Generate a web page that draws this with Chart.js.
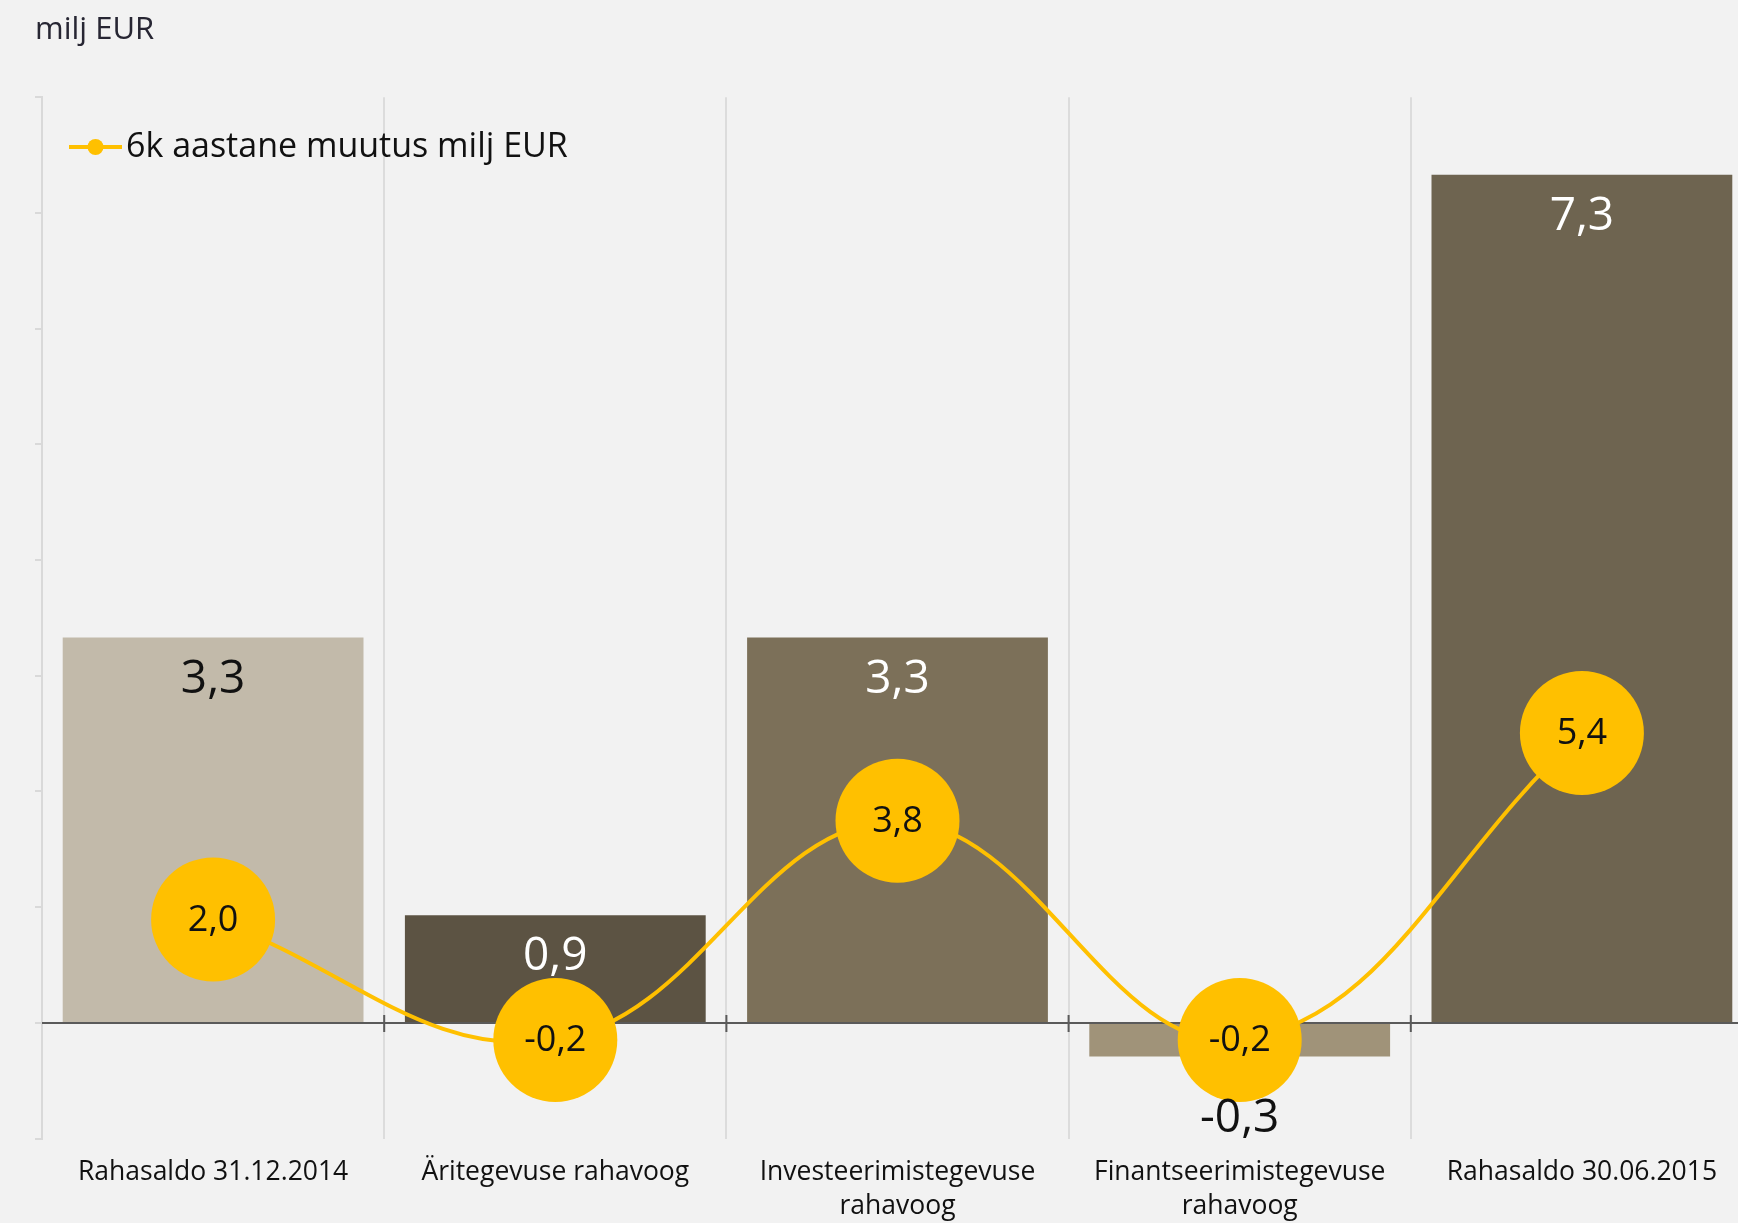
<!DOCTYPE html>
<html>
<head>
<meta charset="utf-8">
<title>Rahavood</title>
<script src="https://cdn.jsdelivr.net/npm/chart.js"></script>
<style>
    html, body { margin: 0; padding: 0; background: #f2f2f2; overflow: hidden; }
    #wrap { position: absolute; left: 0; top: 0; width: 1760px; height: 1241px; }
</style>
</head>
<body>
<div id="wrap"><canvas id="myChart" width="1760" height="1241"></canvas></div>
<script>
const categories = [
    'Rahasaldo 31.12.2014',
    'Äritegevuse rahavoog',
    ['Investeerimistegevuse', 'rahavoog'],
    ['Finantseerimistegevuse', 'rahavoog'],
    'Rahasaldo 30.06.2015'
];
const cashValues = [3.33, 0.93, 3.33, -0.29, 7.33];
const changeValues = [2.0, -0.2, 3.8, -0.2, 5.4];
const changeLabel = '6k aastane muutus milj EUR';
const unitLabel = 'milj EUR';

const barColors = ['#c2baaa', '#5c5343', '#7c7059', '#a09379', '#6e6450'];
const barLabelColors = ['#111111', '#ffffff', '#ffffff', '#111111', '#ffffff'];
const yellow = '#ffc000';
const family = '"Open Sans", sans-serif';

const fmt = v => v.toFixed(1).replace('.', ',');

// legend marker: short line with a dot in the middle
function legendMarker() {
    const c = document.createElement('canvas');
    c.width = 62;
    c.height = 18;
    const g = c.getContext('2d');
    g.strokeStyle = yellow;
    g.lineWidth = 4;
    g.beginPath();
    g.moveTo(9, 9);
    g.lineTo(62, 9);
    g.stroke();
    g.fillStyle = yellow;
    g.beginPath();
    g.arc(35.5, 9, 8, 0, Math.PI * 2);
    g.fill();
    return c;
}

// dark zero line with crossing ticks, drawn over the bars but under the line
const zeroAxis = {
    id: 'zeroAxis',
    beforeDatasetDraw(chart, args) {
        if (args.meta.type !== 'line') return;
        const {ctx, chartArea, scales: {x, y}} = chart;
        const y0 = y.getPixelForValue(0);
        ctx.save();
        ctx.strokeStyle = '#5a5a5a';
        ctx.lineWidth = 2;
        ctx.beginPath();
        ctx.moveTo(chartArea.left, y0);
        ctx.lineTo(chartArea.right, y0);
        for (let i = 1; i < categories.length; i++) {
            const bx = (x.getPixelForValue(i - 1) + x.getPixelForValue(i)) / 2;
            ctx.moveTo(bx, y0 - 8);
            ctx.lineTo(bx, y0 + 9);
        }
        ctx.stroke();
        ctx.restore();
    }
};

const valueLabels = {
    id: 'valueLabels',
    afterDatasetsDraw(chart) {
        const ctx = chart.ctx;
        ctx.save();
        ctx.textAlign = 'center';
        ctx.textBaseline = 'middle';

        ctx.font = '46px ' + family;
        chart.getDatasetMeta(1).data.forEach((bar, i) => {
            const v = cashValues[i];
            ctx.fillStyle = barLabelColors[i];
            ctx.fillText(fmt(v), bar.x, v >= 0 ? bar.y + 42 : bar.y + 62);
        });

        ctx.font = '36px ' + family;
        ctx.fillStyle = '#111111';
        chart.getDatasetMeta(0).data.forEach((p, i) => {
            ctx.fillText(fmt(changeValues[i]), p.x, p.y + 1);
        });
        ctx.restore();
    }
};

const ctx = document.getElementById('myChart').getContext('2d');
new Chart(ctx, {
    data: {
        labels: categories,
        datasets: [
            {
                type: 'line',
                label: changeLabel,
                data: changeValues,
                yAxisID: 'y2',
                borderColor: yellow,
                borderWidth: 4,
                tension: 0.4,
                pointRadius: 62,
                pointHoverRadius: 62,
                pointBackgroundColor: yellow,
                pointBorderWidth: 0,
                clip: false,
                order: 0
            },
            {
                type: 'bar',
                label: 'Rahasaldo',
                data: cashValues,
                backgroundColor: barColors,
                barPercentage: 1,
                categoryPercentage: 0.879,
                order: 1
            }
        ]
    },
    options: {
        responsive: false,
        animation: false,
        devicePixelRatio: 1,
        layout: { autoPadding: false, padding: { left: 35, right: 7, top: 0, bottom: 0 } },
        plugins: {
            title: {
                display: true,
                text: unitLabel,
                align: 'start',
                color: '#272633',
                font: { family: family, size: 31, weight: 'normal', lineHeight: 1.2 },
                padding: { top: 12, bottom: 48 }
            },
            legend: {
                position: 'chartArea',
                align: 'start',
                // empty title only pushes the legend row down inside the plot
                title: { display: true, text: '', font: { size: 1, lineHeight: 1 }, padding: { top: 98, bottom: 0 } },
                labels: {
                    usePointStyle: true,
                    pointStyle: legendMarker(),
                    pointStyleWidth: 36,
                    padding: 31,
                    color: '#111111',
                    font: { family: family, size: 34 },
                    filter: item => item.datasetIndex === 0
                }
            },
            tooltip: { enabled: false }
        },
        scales: {
            x: {
                grid: { offset: true, color: '#dcdcdc', lineWidth: 2, drawTicks: false },
                border: { display: false },
                ticks: {
                    color: '#111111',
                    font: { family: family, size: 26.5, lineHeight: 1.29 },
                    padding: 17,
                    maxRotation: 0,
                    autoSkip: false
                }
            },
            y: {
                min: -1,
                max: 8,
                ticks: { display: false, stepSize: 1 },
                grid: { drawOnChartArea: false, tickLength: 7, tickColor: '#d9d9d9', lineWidth: 2 },
                border: { color: '#d9d9d9', width: 2 }
            },
            y2: { display: false, min: -2, max: 17 }
        }
    },
    plugins: [zeroAxis, valueLabels]
});
</script>
</body>
</html>
